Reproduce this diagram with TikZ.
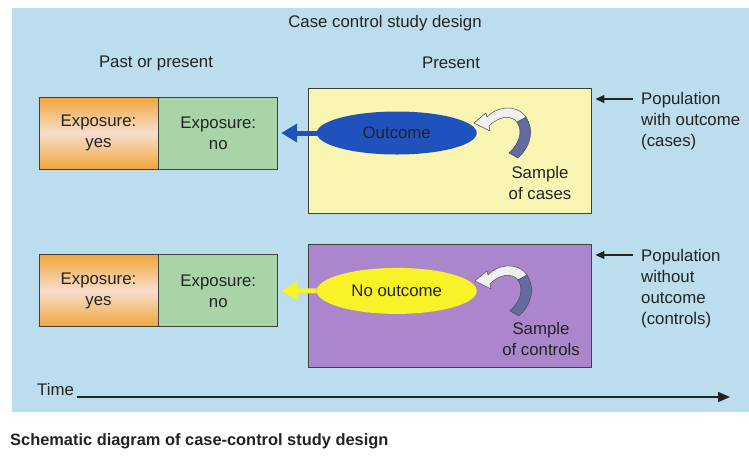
\documentclass[tikz,border=0pt]{standalone}
\usepackage{fontspec}
\setmainfont{Liberation Sans}
\usetikzlibrary{positioning,arrows.meta,shapes.geometric}

\definecolor{bgBlue}{RGB}{187,221,238}
\definecolor{caseYellow}{RGB}{249,246,180}
\definecolor{ctrlPurple}{RGB}{172,134,205}
\definecolor{outBlue}{RGB}{32,82,190}
\definecolor{noOutYellow}{RGB}{248,243,40}
\definecolor{expOrange}{RGB}{240,166,58}
\definecolor{expPink}{RGB}{247,222,205}
\definecolor{expGreen}{RGB}{168,212,168}
\definecolor{ribbonDark}{RGB}{98,108,160}
\definecolor{ribbonLight}{RGB}{240,240,240}
\definecolor{txt}{RGB}{35,35,35}

\tikzstyle{expbox} = [draw=black!75, line width=0.8pt, rectangle, align=center, minimum width=119pt, minimum height=72pt, inner sep=0pt]
\tikzstyle{yesbox} = [expbox, top color=expOrange, bottom color=expOrange, middle color=expPink]
\tikzstyle{nobox} = [expbox, fill=expGreen]
\tikzstyle{popbox} = [draw=black!75, line width=0.9pt, rectangle, minimum width=283pt, inner sep=0pt]
\tikzstyle{outellipse} = [ellipse, minimum width=160pt, inner sep=0pt]
\tikzstyle{note} = [align=left, inner sep=0pt]
\tikzstyle{fatarrow} = [line width=5pt, -{Triangle[length=16pt,width=18pt]}, shorten >=3pt]
\tikzstyle{ptr} = [draw=txt, line width=1.3pt, -{Triangle[length=9pt,width=8pt]}]
\tikzstyle{timearrow} = [draw=txt, line width=1.5pt, -{Triangle[length=12pt,width=10pt]}]

\tikzset{
  ribbon/.pic={
    \filldraw[fill=ribbonDark, draw=black!70, line width=0.5pt] (52,-6) .. controls (60,6) and (58,22) .. (44,35) -- (35,30) .. controls (46,20) and (49,8) .. (43,-1) -- cycle;
    \filldraw[fill=ribbonLight, draw=black!70, line width=0.5pt] (0,0) -- (12,-10) -- (13,-6) .. controls (22,-16) and (42,-20) .. (52,-6) -- (43,-1) .. controls (36,-9) and (24,-6) .. (15,3) -- (16,8) -- cycle;
  }
}

\begin{document}
\begin{tikzpicture}[x=1pt, y=-1pt, font=\fontsize{16.8}{21}\selectfont, text=txt]
  \useasboundingbox (0,0) rectangle (749,456);
  \fill[white] (0,0) rectangle (749,456);
  \fill[bgBlue] (12,8) rectangle (749,412);

  \node (title) at (385,23) {Case control study design};
  \node (pastHdr) at (156,63) {Past or present};
  \node (presentHdr) at (451,63) {Present};

  % cases
  \node [popbox, fill=caseYellow, minimum height=125pt] (cases) at (449.5,150.5) {};
  \node [outellipse, fill=outBlue, minimum height=43pt, right=9pt of cases.west, yshift=17.5pt] (outcome) {Outcome};
  \node [yesbox] (yesA) at (98.5,133) {Exposure:\\yes};
  \node [nobox, right=0pt of yesA] (noA) {Exposure:\\no};
  \draw [fatarrow, outBlue] (outcome.west) -- (noA.east);
  \pic at ([shift={(-3pt,10pt)}]outcome.east) {ribbon};
  \node [align=center, inner sep=0pt] (sampleCases) at (540,182.5) {Sample\\of cases};
  \node [note, anchor=north west] (popCases) at (641,92) {Population\\with outcome\\(cases)};
  \coordinate (pc) at ([xshift=-8pt,yshift=-7pt]popCases.north west);
  \draw [ptr, shorten >=4pt] (pc) -- (pc -| cases.east);

  % controls
  \node [popbox, fill=ctrlPurple, minimum height=123pt, below=31pt of cases] (controls) {};
  \node [outellipse, fill=noOutYellow, minimum height=46pt, right=9pt of controls.west, yshift=15.5pt] (noOutcome) {No outcome};
  \node [yesbox, below=85pt of yesA] (yesB) {Exposure:\\yes};
  \node [nobox, right=0pt of yesB] (noB) {Exposure:\\no};
  \draw [fatarrow, noOutYellow] (noOutcome.west) -- (noB.east);
  \pic at ([shift={(-2pt,10pt)}]noOutcome.east) {ribbon};
  \node [align=center, inner sep=0pt] (sampleCtrl) at (541,338.5) {Sample\\of controls};
  \node [note, anchor=north west] (popCtrl) at (641,249) {Population\\without\\outcome\\(controls)};
  \coordinate (pn) at ([xshift=-8pt,yshift=-6pt]popCtrl.north west);
  \draw [ptr, shorten >=4pt] (pn) -- (pn -| controls.east);

  % time axis and caption
  \node [anchor=base west, inner sep=0pt] (time) at (37,395) {Time};
  \coordinate (timeEnd) at (730,397);
  \draw [timearrow] ([xshift=3pt,yshift=-2pt]time.base east) -- (timeEnd);
  \node [anchor=base west, inner sep=0pt, font=\bfseries\fontsize{16.4}{19}\selectfont] (caption) at (10,445) {Schematic diagram of case-control study design};
\end{tikzpicture}
\end{document}
